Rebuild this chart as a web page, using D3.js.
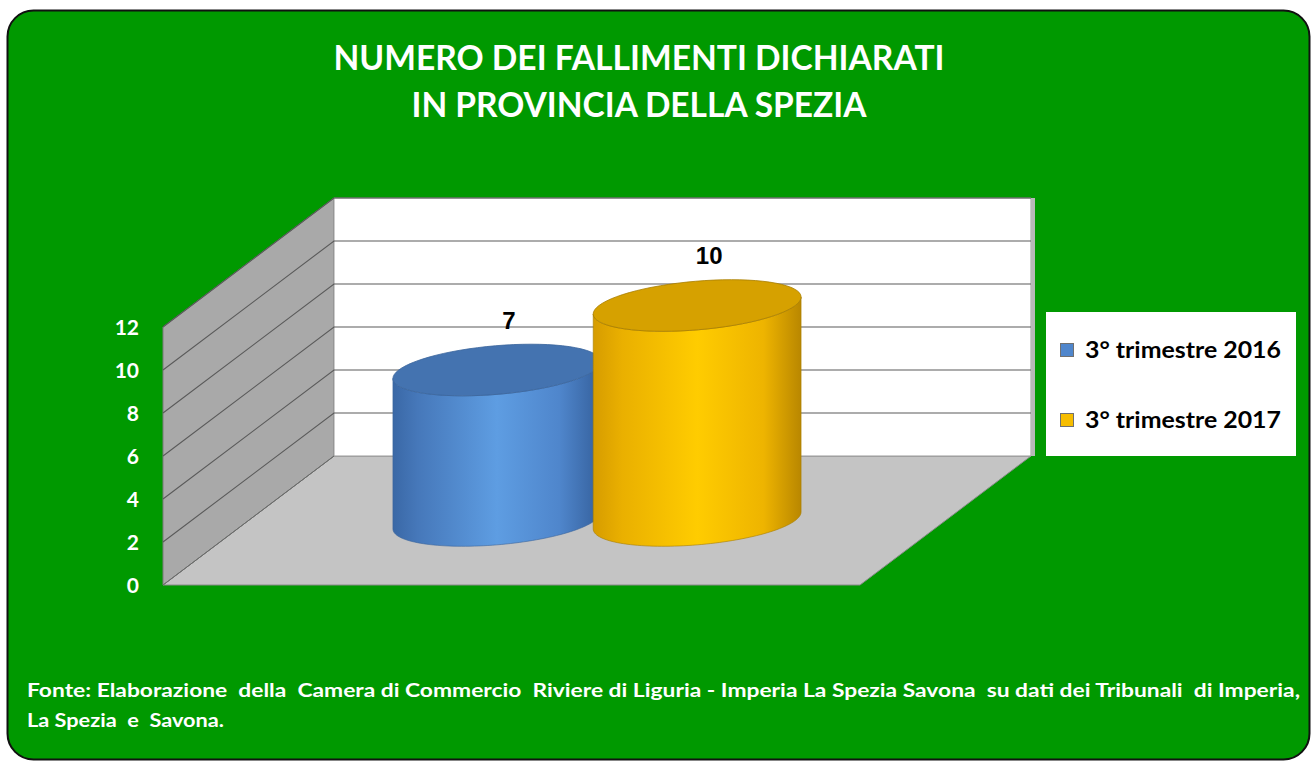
<!DOCTYPE html>
<html>
<head>
<meta charset="utf-8">
<script src="https://cdn.jsdelivr.net/npm/d3@7"></script>
<style>
  html, body { margin: 0; padding: 0; background: #ffffff; }
  svg { display: block; }
  text { white-space: pre; }
</style>
</head>
<body>
<svg id="chart" width="1312" height="762"></svg>
<script>
// Numero dei fallimenti dichiarati, provincia della Spezia
const titleLines = ["NUMERO DEI FALLIMENTI DICHIARATI", "IN PROVINCIA DELLA SPEZIA"];
const series = ["3° trimestre 2016", "3° trimestre 2017"];
const values = [7, 10];
const seriesColors = ["#4f86cc", "#f6bd00"];
const yTicks = [0, 2, 4, 6, 8, 10, 12];
const sourceLines = [
  "Fonte: Elaborazione  della  Camera di Commercio  Riviere di Liguria - Imperia La Spezia Savona  su dati dei Tribunali  di Imperia,",
  "La Spezia  e  Savona."
];

const svg = d3.select("#chart");
const FONT = "Lato, 'Open Sans', sans-serif";

// Panel background
svg.append("rect")
  .attr("x", 7.5).attr("y", 10.5).attr("width", 1302).attr("height", 749)
  .attr("rx", 26).attr("ry", 26)
  .attr("fill", "#009900").attr("stroke", "#111").attr("stroke-width", 2);

// Title
svg.append("g").selectAll("text").data(titleLines).join("text")
  .attr("x", 639).attr("y", (d, i) => 70 + i * 47)
  .attr("text-anchor", "middle")
  .attr("font-family", FONT).attr("font-weight", 700).attr("font-size", 34)
  .attr("fill", "#ffffff")
  .attr("textLength", (d, i) => i === 0 ? 611 : 455)
  .attr("lengthAdjust", "spacingAndGlyphs")
  .text(d => d);

// 3D frame: front plane scales plus an oblique depth offset
const y = d3.scaleLinear().domain([0, 12]).range([585, 327]);
const x = d3.scaleBand().domain(series).range([163, 860]).paddingInner(0).paddingOuter(0.74);
const DX = 171, DY = -129;
const proj = (xf, v, z) => [xf + z * DX, y(v) + z * DY];
const [x0, x1] = x.range();
const vMax = d3.max(yTicks);

const frame = svg.append("g");
const line = d3.line();

// Floor
frame.append("path")
  .attr("d", line([proj(x0, 0, 0), proj(x1, 0, 0), proj(x1, 0, 1), proj(x0, 0, 1)]) + "Z")
  .attr("fill", "#c4c4c4").attr("stroke", "#8a8a8a").attr("stroke-width", 1);

// Left side wall
frame.append("path")
  .attr("d", line([proj(x0, 0, 0), proj(x0, 0, 1), proj(x0, vMax, 1), proj(x0, vMax, 0)]) + "Z")
  .attr("fill", "#a9a9a9").attr("stroke", "#7a7a7a").attr("stroke-width", 1);

// Back wall
frame.append("path")
  .attr("d", line([proj(x0, 0, 1), proj(x1, 0, 1), proj(x1, vMax, 1), proj(x0, vMax, 1)]) + "Z")
  .attr("fill", "#ffffff").attr("stroke", "#9a9a9a").attr("stroke-width", 1);

// Right edge shading of back wall
frame.append("path")
  .attr("d", line([proj(x1, 0, 1), proj(x1 + 4, 0, 1), proj(x1 + 4, vMax, 1), proj(x1, vMax, 1)]) + "Z")
  .attr("fill", "#b8b8b8");

// Gridlines on side wall and back wall
const grid = yTicks.filter(t => t > 0);
frame.append("g").selectAll("path").data(grid).join("path")
  .attr("d", t => line([proj(x0, t, 0), proj(x0, t, 1), proj(x1, t, 1)]))
  .attr("fill", "none").attr("stroke", "#5a5a5a").attr("stroke-width", 1.1);
frame.append("path")
  .attr("d", line([proj(x0, 0, 0), proj(x0, 0, 1)]))
  .attr("stroke", "#6a6a6a").attr("stroke-width", 1);

// Y axis tick labels
svg.append("g").selectAll("text").data(yTicks).join("text")
  .attr("x", 139).attr("y", t => y(t))
  .attr("dy", "0.36em")
  .attr("text-anchor", "end")
  .attr("font-family", FONT).attr("font-weight", 700).attr("font-size", 21)
  .attr("fill", "#ffffff")
  .text(t => t);

// Cylinders
const defs = svg.append("defs");
const bodyStops = [
  [["0%", "#3a68a6"], ["12%", "#4678ba"], ["50%", "#5e9de2"], ["80%", "#4f86cc"], ["100%", "#35609c"]],
  [["0%", "#d69c00"], ["14%", "#eab000"], ["50%", "#ffcc00"], ["82%", "#eeb400"], ["100%", "#b98700"]]
];
const topColors = ["#4473b0", "#d6a100"];
const topStroke = ["#3a649c", "#a87d00"];

series.forEach((s, i) => {
  const g = defs.append("linearGradient").attr("id", "body" + i)
    .attr("x1", "0%").attr("x2", "100%").attr("y1", "0%").attr("y2", "0%");
  bodyStops[i].forEach(([o, c]) => g.append("stop").attr("offset", o).attr("stop-color", c));
});

const zc = 0.5, kz = 0.2;           // cylinder centre depth and depth radius
const rx = x.bandwidth() * 0.49;    // radius along the category axis
const t0 = Math.atan2(kz * DX, rx); // silhouette tangent angle
const ellipsePt = (cx, v, t) => proj(cx + rx * Math.cos(t), v, zc + kz * Math.sin(t));
const N = 72;
const arc = (cx, v, a, b) => d3.range(N + 1).map(k => ellipsePt(cx, v, a + (b - a) * k / N));

const cyl = svg.append("g");
const labels = svg.append("g");
series.forEach((s, i) => {
  const cx = x(s) + x.bandwidth() / 2;
  const v = values[i];
  const g = cyl.append("g");
  // side surface: front arc at the base, front arc at the top
  const bottomFront = arc(cx, 0, t0 + Math.PI, t0 + 2 * Math.PI);
  const topFront = arc(cx, v, t0 + 2 * Math.PI, t0 + Math.PI);
  g.append("path")
    .attr("d", line(bottomFront.concat(topFront)) + "Z")
    .attr("fill", `url(#body${i})`)
    .attr("stroke", topStroke[i]).attr("stroke-width", 0.6);
  // top face
  g.append("path")
    .attr("d", line(arc(cx, v, 0, 2 * Math.PI)) + "Z")
    .attr("fill", topColors[i])
    .attr("stroke", topStroke[i]).attr("stroke-width", 0.8);
  // value label
  const p = proj(cx, v, zc);
  labels.append("text")
    .attr("x", p[0] + 12).attr("y", p[1] - 50)
    .attr("dy", "0.36em")
    .attr("text-anchor", "middle")
    .attr("font-family", "'Liberation Sans Narrow', 'Liberation Sans', Arial, sans-serif")
    .attr("font-weight", 700).attr("font-size", 24)
    .attr("fill", "#000000")
    .text(v);
});

// Legend
const legend = svg.append("g");
legend.append("rect")
  .attr("x", 1046).attr("y", 312).attr("width", 250).attr("height", 144)
  .attr("fill", "#ffffff");
const item = legend.selectAll("g").data(series).join("g")
  .attr("transform", (d, i) => `translate(1060, ${350 + i * 70})`);
item.append("rect")
  .attr("x", 0.5).attr("y", -6.5).attr("width", 13).attr("height", 13)
  .attr("fill", (d, i) => seriesColors[i])
  .attr("stroke", "#707070").attr("stroke-width", 1);
item.append("text")
  .attr("x", 25).attr("y", 0).attr("dy", "0.36em")
  .attr("font-family", FONT).attr("font-weight", 700).attr("font-size", 22)
  .attr("fill", "#000000")
  .attr("textLength", 196).attr("lengthAdjust", "spacingAndGlyphs")
  .text(d => d);

// Source note
svg.append("g").selectAll("text").data(sourceLines).join("text")
  .attr("x", 27).attr("y", (d, i) => 697 + i * 30)
  .attr("font-family", FONT).attr("font-weight", 700).attr("font-size", 19)
  .attr("fill", "#ffffff")
  .attr("textLength", (d, i) => i === 0 ? 1273 : 197)
  .attr("lengthAdjust", "spacingAndGlyphs")
  .text(d => d);
</script>
</body>
</html>
